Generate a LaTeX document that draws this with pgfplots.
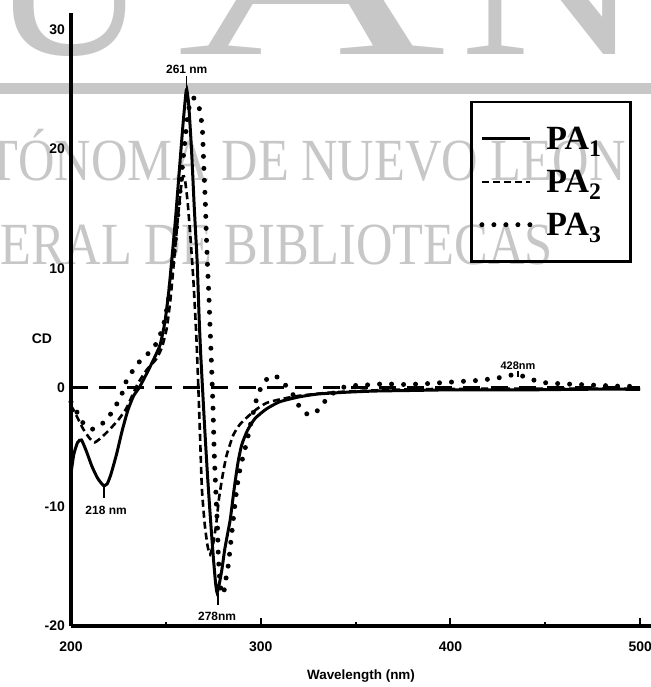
\documentclass[border=0pt]{standalone}
\usepackage{pgfplots}
\pgfplotsset{compat=1.18}
\usepackage{fontspec}
\setmainfont{Liberation Serif}
\newfontfamily\hv{Liberation Sans}

\begin{document}
\begin{tikzpicture}
% scanned-page watermark
\begin{scope}[black!22]
  \node[anchor=base, inner sep=0, font=\fontsize{220}{220}\selectfont] at (-1bp,571bp) {U};
  \node[anchor=base, inner sep=0, font=\fontsize{220}{220}\selectfont, xscale=1.7] at (241bp,571bp) {A};
  \node[anchor=base, inner sep=0, font=\fontsize{220}{220}\selectfont, xscale=1.15] at (481bp,571bp) {N};
  \fill (-71bp,532bp) rectangle (580bp,543bp);
  \node[anchor=base west, inner sep=0, font=\fontsize{60}{60}\selectfont, xscale=0.845] at (-53bp,445bp) {\llap{AUT}ÓNOMA DE NUEVO LEÓN};
  \node[anchor=base west, inner sep=0, font=\fontsize{60}{60}\selectfont, xscale=0.845] at (-71bp,361bp) {\llap{DIRECCIÓN GEN}ERAL DE BIBLIOTECAS};
\end{scope}

\begin{axis}[
  scale only axis, width=580bp, height=613bp,
  xmin=200, xmax=505.7, ymin=-20, ymax=31.4,
  axis x line=bottom, axis y line=left,
  axis line style={line width=3.5bp, -},
  clip=false,
  tick align=inside,
  major tick length=8bp, minor tick length=4bp,
  xtick={200,300,400,500}, xticklabels={200,300,400,500},
  minor xtick={250,350,450},
  ytick={-20,-10,0,10,20,30}, yticklabels={-20,-10,0,10,20,30},
  x tick style={line width=2bp, black},
  y tick style={draw=none},
  xticklabel style={font=\hv\bfseries\fontsize{14}{14}\selectfont, yshift=-12bp},
  yticklabel style={font=\hv\bfseries\fontsize{14}{14}\selectfont, inner xsep=0pt, xshift=-6bp},
  xlabel={Wavelength (nm)},
  xlabel style={font=\hv\bfseries\fontsize{13.5}{13.5}\selectfont, at={(axis description cs:0.5,0)}, anchor=center, yshift=-50bp},
  ylabel={CD},
  ylabel style={font=\hv\bfseries\fontsize{14}{14}\selectfont, rotate=-90, at={(axis description cs:0,0.469)}, anchor=center, xshift=-29bp},
  legend style={at={(axis cs:410.3,24.05)}, anchor=north west, draw=black, line width=2.8bp, fill=none,
    font=\fontsize{34}{34}\selectfont\bfseries, inner xsep=8bp, inner ysep=25bp, row sep=19bp,
    nodes={inner sep=0pt}, cells={anchor=west}},
  legend image code/.code={\draw[#1] (0bp,0bp) -- (48bp,0bp); \path (62bp,0bp);},
]

% zero reference line
\addplot[forget plot, black, line width=3.5bp, dash pattern=on 17bp off 11bp] coordinates {(200,0) (500,0)};

% PA1
\addplot[black, line width=3bp, smooth, tension=0.35] coordinates {
(200,-7.2) (201.5,-5.6) (203.5,-4.6) (205.5,-4.4) (208,-5.3) (211,-6.6) (214,-7.6)
(217,-8.2) (219,-8.1) (221,-7.3) (224,-5.6) (227,-3.6) (230,-1.9) (233,-0.7)
(236,0.0) (240,1.2) (244,2.5) (247,3.6) (249.5,5.5) (251.5,8) (253,10.5)
(255,14) (257,18) (259,22) (260.5,24.6) (261,25) (262,23.8) (263.5,20)
(265,15) (266.5,10.5) (267.5,6) (268.3,3) (269.3,0) (270.5,-3.5) (272,-7.5)
(273.5,-11) (275,-14.2) (276.2,-16.4) (277,-17.2) (278,-16.6) (279.5,-15.3)
(281,-13.6) (282.5,-12.3) (284,-11) (286,-8.5) (288,-6.3) (290,-4.8) (293,-3.6)
(297,-2.6) (303,-1.8) (310,-1.2) (320,-0.8) (330,-0.55) (345,-0.4) (360,-0.3)
(380,-0.25) (400,-0.2) (440,-0.2) (470,-0.15) (500,-0.15)
};
\addlegendentry{\makebox[76bp][l]{PA\textsubscript{1}}}

% PA2
\addplot[black, line width=2.6bp, dash pattern=on 7bp off 4bp, smooth, tension=0.35] coordinates {
(200,-1.5) (203,-2.4) (206.5,-3.5) (210,-4.3) (212.5,-4.6) (216,-4.2) (220.5,-3.5)
(225,-2.7) (229,-1.8) (232.5,-0.6) (235.5,0.4) (240,1.5) (245,2.4) (248,3.4)
(250.5,5) (252.5,7.5) (254.5,11) (256.5,14.5) (258,16.8) (259,17.7) (260,17.5)
(261.5,15.5) (263,12.5) (264.5,9) (266,4.5) (267,0.5) (268,-4) (269,-8.5)
(270.5,-11.5) (272,-13.3) (273.3,-14) (274.8,-13.2) (276.5,-11.5) (278,-9.3)
(280,-7.3) (282,-5.7) (285.5,-4) (289,-3.1) (293.5,-2.4) (298,-1.8) (303,-1.3)
(310,-1) (320,-0.7) (335,-0.45) (350,-0.3) (380,-0.15) (420,-0.1) (460,-0.1) (500,-0.1)
};
\addlegendentry{\makebox[76bp][l]{PA\textsubscript{2}}}

% PA3
\addplot[black, line width=5bp, line cap=round, dash pattern=on 0bp off 12bp, smooth, tension=0.35] coordinates {
(200,-1.2) (202,-1.7) (205.5,-2.8) (208.5,-3.3) (211.8,-3.5) (215,-3.2) (218.8,-2.7)
(223,-1.7) (226.7,-0.6) (229.3,0.6) (233,1.5) (237.3,2.4) (242.5,3.1) (246,4)
(249,5.4) (251.5,7.5) (254,10.8) (256.5,14.8) (259,19) (261.5,22.8) (263,24)
(264.5,24.3) (266,24) (268,23.2) (269.3,21.5) (270,18.5) (270.8,15.5) (271.4,12.5)
(272,10) (272.6,8) (273.2,5.5) (273.8,3) (274.3,0.8) (274.8,-1.5) (275.2,-3.8)
(275.6,-6) (276,-7.5) (276.6,-9.7) (277.2,-11.7) (277.6,-13.8) (278.2,-15.7)
(279.3,-17.3) (280.5,-17.2) (281.5,-16.2) (283,-14.8) (284.2,-13) (285.6,-11)
(287,-9) (288.5,-7.3) (290.8,-5.7) (292.6,-4.6) (294.5,-3.2) (296.5,-1.8)
(298.5,-0.6) (302,0.5) (306,1.0) (309.5,0.8) (312.5,0.3) (317,-0.6) (320,-1.5)
(323,-2.1) (326,-2.3) (329,-2.1) (333,-1.3) (338,-0.5) (345,0.1) (355,0.2)
(365,0.3) (375,0.25) (385,0.3) (395,0.4) (405,0.5) (415,0.6) (425,0.8)
(435,1.1) (442,0.7) (450,0.4) (460,0.3) (475,0.2) (490,0.1) (500,0.1)
};
\addlegendentry{\makebox[76bp][l]{PA\textsubscript{3}}}

% peak annotations
\draw[line width=1.5bp] (axis cs:261,25) -- (axis cs:261,26.1);
\node[font=\hv\bfseries\fontsize{12}{12}\selectfont, inner sep=0] at (axis cs:261,26.7) {261 nm};
\draw[line width=1.5bp] (axis cs:217.5,-8.2) -- (axis cs:217.5,-9.3);
\node[font=\hv\bfseries\fontsize{12}{12}\selectfont, inner sep=0] at (axis cs:218.5,-10.3) {218 nm};
\draw[line width=1.5bp] (axis cs:277.5,-17.2) -- (axis cs:277.5,-18.2);
\node[font=\hv\bfseries\fontsize{12}{12}\selectfont, inner sep=0] at (axis cs:277,-19.2) {278nm};
\draw[line width=1.5bp] (axis cs:435.6,0.9) -- (axis cs:435.6,1.4);
\node[font=\hv\bfseries\fontsize{11}{11}\selectfont, inner sep=0] at (axis cs:435.6,1.8) {428nm};
\end{axis}
\pgfresetboundingbox
\path[use as bounding box] (-71bp,-61bp) rectangle (580bp,626bp);
\end{tikzpicture}
\end{document}
